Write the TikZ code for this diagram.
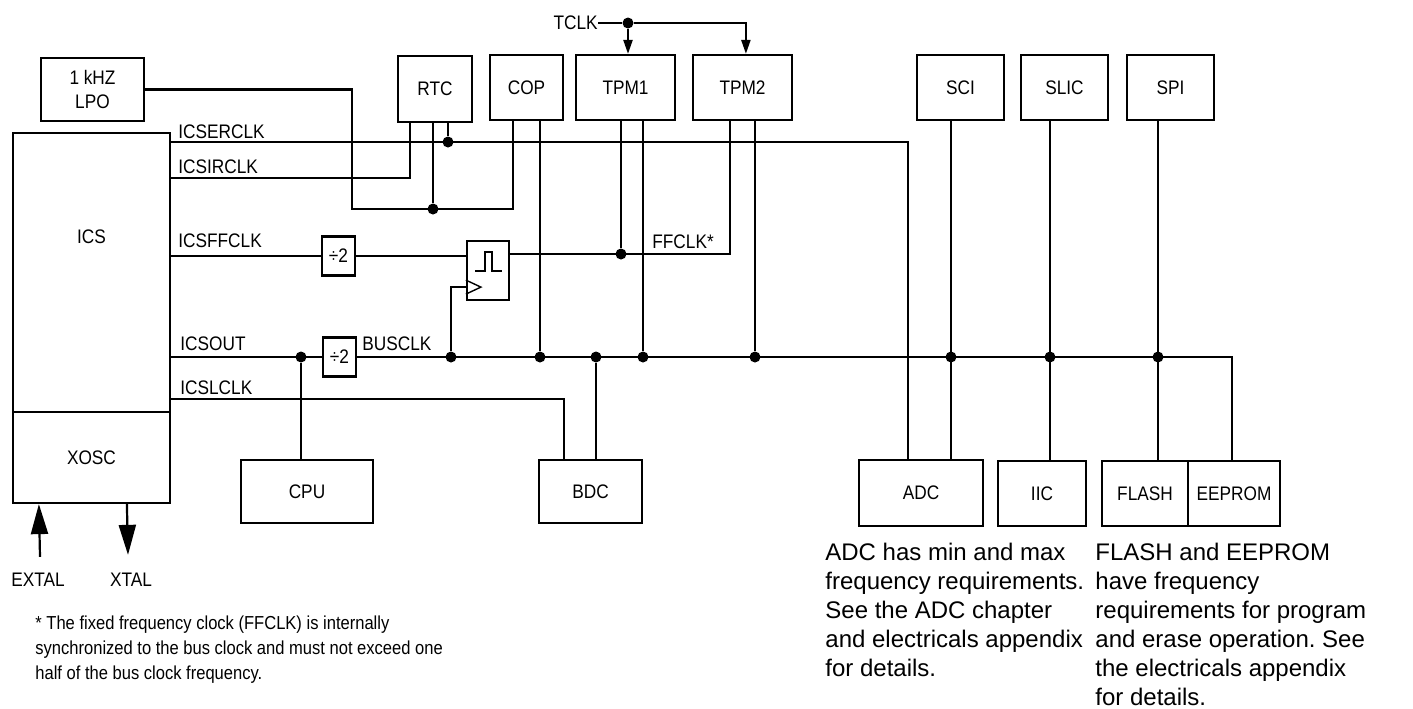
\documentclass[tikz,border=0pt]{standalone}
\usepackage{fontspec}
\setmainfont{Liberation Sans}
\newfontfamily\narrowsf[FakeStretch=0.88]{Liberation Sans}
\usetikzlibrary{arrows.meta, positioning, calc}
\frenchspacing

\begin{document}
\begin{tikzpicture}[x=0.5pt, y=-0.5pt,
    blk/.style={draw, line width=1.1pt, inner sep=0pt, font=\narrowsf\fontsize{9.8}{12}\selectfont},
    lbl/.style={inner sep=0pt, font=\narrowsf\fontsize{9.8}{12}\selectfont},
    wire/.style={line width=1.1pt},
    jn/.style={circle, fill, inner sep=0pt, minimum size=5.5pt},
    arr/.style={-{Triangle[length=7pt, width=4.5pt]}},
    bigarr/.style={-{Triangle[length=15pt, width=8.5pt]}},
    note/.style={inner sep=0pt, anchor=north west, align=left}]
  \useasboundingbox (0,0) rectangle (1413,708);

  % clock sources
  \node[blk, minimum width=51.5pt, minimum height=31.5pt, align=center] (lpo) at (92.5,89.5) {1 kHZ\\LPO};
  \node[blk, minimum width=78.5pt, minimum height=139.5pt] (ics) at (91.5,272.5) {};
  \node[lbl] (icsname) at (91.5,237) {ICS};
  \node[blk, minimum width=78.5pt, minimum height=45.5pt] (xosc) at (91.5,457.5) {XOSC};

  % modules on top
  \node[blk, minimum width=37pt, minimum height=33pt] (rtc) at (435,89) {RTC};
  \node[blk, minimum width=36.5pt, minimum height=32.5pt] (cop) at (526.5,87.5) {COP};
  \node[blk, minimum width=49.5pt, minimum height=32.5pt] (tpm1) at (625.5,87.5) {TPM1};
  \node[blk, minimum width=49.5pt, minimum height=32.5pt] (tpm2) at (742.5,87.5) {TPM2};
  \node[blk, minimum width=43.5pt, minimum height=32.5pt] (sci) at (960.5,87.5) {SCI};
  \node[blk, minimum width=43.5pt, minimum height=32.5pt] (slic) at (1064.5,87.5) {SLIC};
  \node[blk, minimum width=43.5pt, minimum height=32.5pt] (spi) at (1170.5,87.5) {SPI};

  % dividers and sync flip-flop
  \node[blk, minimum width=16.5pt, minimum height=19.5pt] (div1) at (338.5,256) {÷2};
  \node[blk, minimum width=16.5pt, minimum height=19.5pt] (div2) at (339.5,357) {÷2};
  \node[blk, minimum width=21pt, minimum height=29.5pt] (ff) at (488,270.5) {};
  \draw[line width=1pt] ($(ff.center)+(-13,0)$) -- ++(10,0) -- ++(0,-19) -- ++(7,0) -- ++(0,19) -- ++(10,0);
  \draw[line width=0.7pt] ($(ff.south west)+(0,-7)$) -- ++(15,-7) -- ++(-15,-7);

  % modules below
  \node[blk, minimum width=66pt, minimum height=31.5pt] (cpu) at (307,491.5) {CPU};
  \node[blk, minimum width=51.5pt, minimum height=31.5pt] (bdc) at (590.5,491.5) {BDC};
  \node[blk, minimum width=62pt, minimum height=33pt] (adc) at (921,493) {ADC};
  \node[blk, minimum width=44pt, minimum height=32.5pt] (iic) at (1042,493.5) {IIC};
  \node[blk, minimum width=43pt, minimum height=32.5pt] (flash) at (1145,493.5) {FLASH};
  \node[blk, minimum width=46pt, minimum height=32.5pt] (eeprom) at (1234,493.5) {EEPROM};

  % ICS outputs
  \coordinate (erc) at (170,142);
  \coordinate (irc) at (170,178);
  \coordinate (ffc) at (170,256);
  \coordinate (out) at (170,357);
  \coordinate (lcl) at (170,399);
  \coordinate (lpoc) at (352,209);

  \node[jn] (jerc) at (448,142) {};
  \node[jn] (jlpo) at (433,209) {};
  \node[jn] (jff) at (621,254) {};
  \node[jn] (jcpu) at (301,357) {};
  \node[jn] (jclk) at (451,357) {};
  \node[jn] (jcop) at (540,357) {};
  \node[jn] (jbdc) at (596,357) {};
  \node[jn] (jtpm1) at (643,357) {};
  \node[jn] (jtpm2) at (755,357) {};
  \node[jn] (jsci) at (951,357) {};
  \node[jn] (jslic) at (1050,357) {};
  \node[jn] (jspi) at (1158,357) {};

  \draw[wire] (erc) -| ($(adc.north west)+(50,0)$);
  \draw[wire] (jerc) -- (jerc |- rtc.south);
  \draw[wire] (irc) -| ($(rtc.south west)+(13,0)$);
  \draw[wire] (lpo.east) -| (lpoc) -| ($(cop.south west)+(24,0)$);
  \draw[wire] (jlpo) -- (jlpo |- rtc.south);

  \draw[wire] (ffc) -- (div1.west);
  \draw[wire] (div1.east) -- (div1.east -| ff.west);
  \draw[wire] (ff.east |- jff) -| ($(tpm2.south west)+(38,0)$);
  \draw[wire] (jff) -- (jff |- tpm1.south);

  \draw[wire] (out) -- (div2.west);
  \draw[wire] (div2.east) -| ($(eeprom.north west)+(45,0)$);
  \draw[wire] (jcpu) -- (jcpu |- cpu.north);
  \draw[wire] (jclk) |- ($(ff.south west)+(0,-14)$);
  \draw[wire] (jcop) -- (jcop |- cop.south);
  \draw[wire] (jbdc) -- (jbdc |- bdc.north);
  \draw[wire] (jtpm1) -- (jtpm1 |- tpm1.south);
  \draw[wire] (jtpm2) -- (jtpm2 |- tpm2.south);
  \draw[wire] (jsci |- sci.south) -- (jsci |- adc.north);
  \draw[wire] (jslic |- slic.south) -- (jslic |- iic.north);
  \draw[wire] (jspi |- spi.south) -- (jspi |- flash.north);
  \draw[wire] (lcl) -| ($(bdc.north west)+(26,0)$);

  % external clock
  \node[lbl, anchor=east] (tclk) at (598,23) {TCLK};
  \node[jn] (jtclk) at (628,23) {};
  \draw[wire] (tclk) -- (jtclk);
  \draw[wire, arr] (jtclk) -- (jtclk |- tpm1.north);
  \draw[wire, arr] (jtclk) -| ($(tpm2.north west)+(54,0)$);

  % crystal pins
  \node[lbl] (extal) at (38,580) {EXTAL};
  \node[lbl] (xtal) at (131,580) {XTAL};
  \draw[wire, bigarr] ($(extal.north)+(2,-16)$) -- ($(xosc.south west)+(27,0)$);
  \draw[wire, bigarr] ($(xosc.south west)+(115,0)$) -- ($(xtal.north)+(-3,-18)$);

  % signal names
  \node[lbl, anchor=base west] (lerc) at (178,138) {ICSERCLK};
  \node[lbl, anchor=base west] (lirc) at (178,173) {ICSIRCLK};
  \node[lbl, anchor=base west] (lffc) at (178,247) {ICSFFCLK};
  \node[lbl, anchor=base west] (lout) at (180,350) {ICSOUT};
  \node[lbl, anchor=base west] (lbus) at (362,350) {BUSCLK};
  \node[lbl, anchor=base west] (llcl) at (180,394) {ICSLCLK};
  \node[lbl, anchor=base west] (lffclk) at (652,248) {FFCLK*};

  % notes
  \node[note, font=\fontsize{12}{14.5}\selectfont] (adcnote) at (825,543)
    {ADC has min and max\\frequency requirements.\\See the ADC chapter\\and electricals appendix\\for details.};
  \node[note, font=\fontsize{12}{14.5}\selectfont] (memnote) at (1095,543)
    {FLASH and EEPROM\\have frequency\\requirements for program\\and erase operation. See\\the electricals appendix\\for details.};
  \node[note, font=\narrowsf\fontsize{9.4}{12.5}\selectfont] (foot) at (35,615)
    {* The fixed frequency clock (FFCLK) is internally\\synchronized to the bus clock and must not exceed one\\half of the bus clock frequency.};
\end{tikzpicture}
\end{document}
